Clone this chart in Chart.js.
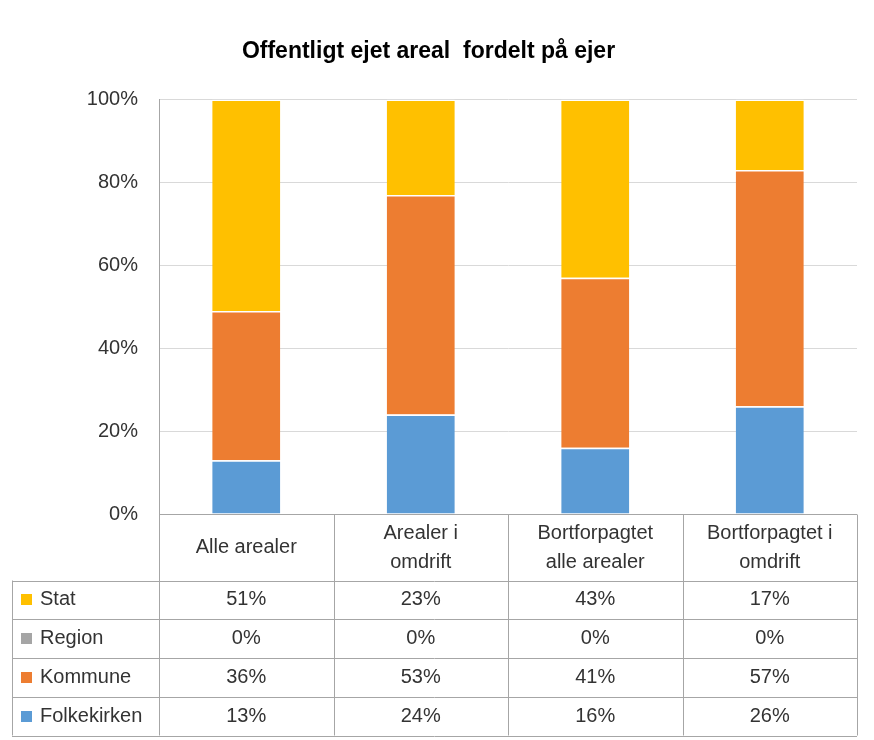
<!DOCTYPE html>
<html>
<head>
<meta charset="utf-8">
<script src="https://cdn.jsdelivr.net/npm/chart.js@4/dist/chart.umd.min.js"></script>
<style>
  html, body { margin: 0; padding: 0; background: #fff; }
  #wrap { width: 874px; height: 740px; }
</style>
</head>
<body>
<div id="wrap"><canvas id="chart"></canvas></div>
<script>
'use strict';

// data, bottom segment first
var categories = [['Alle arealer'], ['Arealer i', 'omdrift'], ['Bortforpagtet', 'alle arealer'], ['Bortforpagtet i', 'omdrift']];
var seriesNames = ['Folkekirken', 'Kommune', 'Region', 'Stat'];
var folkekirken = [13, 24, 16, 26];
var kommune = [36, 53, 41, 57];
var region = [0, 0, 0, 0];
var stat = [51, 23, 43, 17];
var yTicks = [0, 20, 40, 60, 80, 100];

var colors = ['#5B9BD5', '#ED7D31', '#A5A5A5', '#FFC000'];
var seriesValues = [folkekirken, kommune, region, stat];
var FONT = "'Liberation Sans', Arial, sans-serif";
var TEXT = '#333333';
var LINE = '#A6A6A6';

var datasets = seriesNames.map(function (name, i) {
    return {
        label: name,
        data: seriesValues[i],
        backgroundColor: colors[i],
        borderColor: '#ffffff',
        borderWidth: { top: 1.5, left: 0, right: 0, bottom: 0 },
        borderSkipped: false,
        barPercentage: 0.39,
        categoryPercentage: 1
    };
});

// draws category labels + data table under the plot
var tablePlugin = {
    id: 'dataTable',
    afterDraw: function (chart) {
        var ctx = chart.ctx,
            area = chart.chartArea,
            xs = chart.scales.x,
            catW = (area.right - area.left) / categories.length,
            headH = 66,
            rowH = 38.75,
            tableLeft = 12,
            top = Math.round(area.bottom) + 0.5,
            rowsTop = top + headH,
            bottom = rowsTop + rowH * seriesNames.length;

        ctx.save();
        ctx.strokeStyle = LINE;
        ctx.lineWidth = 1;
        ctx.beginPath();
        // x axis / header top
        ctx.moveTo(area.left, top);
        ctx.lineTo(area.right, top);
        for (var r = 0; r <= seriesNames.length; r++) {
            var y = Math.round(rowsTop + r * rowH) + 0.5;
            ctx.moveTo(tableLeft, y);
            ctx.lineTo(area.right, y);
        }
        for (var c = 0; c <= categories.length; c++) {
            var x = Math.round(area.left + c * catW) + 0.5;
            ctx.moveTo(x, top);
            ctx.lineTo(x, bottom);
        }
        ctx.moveTo(tableLeft + 0.5, rowsTop);
        ctx.lineTo(tableLeft + 0.5, bottom);
        ctx.stroke();

        ctx.fillStyle = TEXT;
        ctx.font = '20px ' + FONT;
        ctx.textAlign = 'center';
        ctx.textBaseline = 'middle';
        // category header
        categories.forEach(function (lines, i) {
            var cx = xs.getPixelForValue(i),
                lh = 29,
                y0 = top + headH / 2 - (lines.length - 1) * lh / 2;
            lines.forEach(function (t, k) {
                ctx.fillText(t, cx, y0 + k * lh);
            });
        });

        // rows: top row is the top segment
        for (var row = 0; row < seriesNames.length; row++) {
            var s = seriesNames.length - 1 - row,
                cy = rowsTop + row * rowH + rowH / 2;
            ctx.fillStyle = colors[s];
            ctx.fillRect(21, Math.round(cy - 5.5), 11, 11);
            ctx.fillStyle = TEXT;
            ctx.textAlign = 'left';
            ctx.fillText(seriesNames[s], 40, cy);
            ctx.textAlign = 'center';
            seriesValues[s].forEach(function (v, i) {
                ctx.fillText(v + '%', xs.getPixelForValue(i), cy);
            });
        }
        ctx.restore();
    }
};

var myChart = new Chart(document.getElementById('chart').getContext('2d'), {
    type: 'bar',
    data: {
        labels: categories.map(function (l) { return l.join(' '); }),
        datasets: datasets
    },
    options: {
        responsive: true,
        maintainAspectRatio: false,
        animation: false,
        layout: { padding: { left: 0, right: 17, top: 0, bottom: 226 } },
        plugins: {
            legend: { display: false },
            tooltip: { enabled: false },
            title: {
                display: true,
                text: 'Offentligt ejet areal  fordelt på ejer',
                color: '#000',
                font: { family: FONT, size: 23, weight: 'bold' },
                padding: { top: 38, bottom: 34 }
            }
        },
        scales: {
            x: {
                stacked: true,
                ticks: { display: false },
                grid: { display: false, drawTicks: false },
                border: { display: false }
            },
            y: {
                stacked: true,
                min: 0,
                max: 100,
                afterBuildTicks: function (axis) {
                    axis.ticks = yTicks.map(function (v) { return { value: v }; });
                },
                afterFit: function (axis) { axis.width = 159; },
                ticks: {
                    padding: 21,
                    color: TEXT,
                    font: { family: FONT, size: 20 },
                    callback: function (v) { return v + '%'; }
                },
                grid: { color: '#D9D9D9', drawTicks: false },
                border: { display: true, color: LINE }
            }
        }
    },
    plugins: [tablePlugin]
});
</script>
</body>
</html>
